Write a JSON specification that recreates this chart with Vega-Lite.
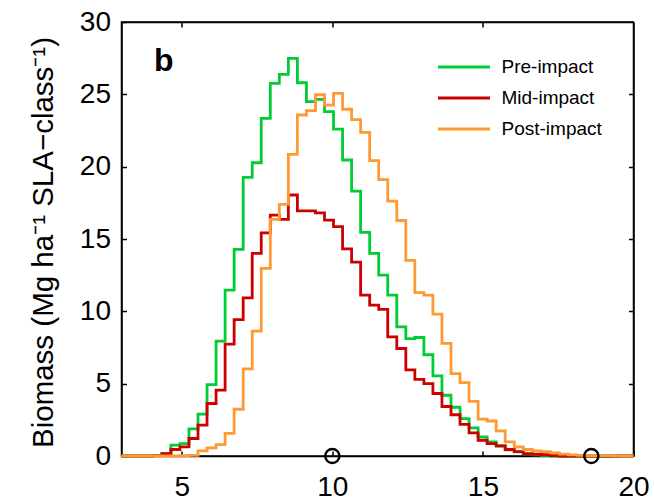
{
  "$schema": "https://vega.github.io/schema/vega-lite/v6.json",
  "width": 512,
  "height": 434,
  "autosize": "none",
  "padding": {"left": 121.5, "top": 22, "right": 20.5, "bottom": 45},
  "background": "white",
  "config": {
    "font": "Liberation Sans",
    "view": {"stroke": "black", "strokeWidth": 1.5},
    "axis": {
      "grid": false,
      "domainColor": "black",
      "domainWidth": 1.5,
      "tickColor": "black",
      "tickWidth": 1.5,
      "tickSize": -5,
      "labelColor": "black",
      "labelFont": "Liberation Sans",
      "labelFontSize": 28,
      "titleColor": "black",
      "titleFont": "Liberation Sans"
    },
    "legend": {
      "orient": "none", "legendX": 322, "legendY": 24.5, "title": null,
      "symbolType": "M-1.368,0H1.368", "symbolSize": 1444, "symbolStrokeWidth": 3,
      "labelFontSize": 19, "labelFont": "Liberation Sans", "labelColor": "black",
      "labelOffset": 17, "rowPadding": 0, "padding": 0
    }
  },
  "datasets": {
    "hist": [
      {"x": 3, "Pre-impact": 0, "Mid-impact": 0, "Post-impact": 0},
      {"x": 3.14, "Pre-impact": 0, "Mid-impact": 0, "Post-impact": 0},
      {"x": 3.44, "Pre-impact": 0, "Mid-impact": 0, "Post-impact": 0},
      {"x": 3.74, "Pre-impact": 0, "Mid-impact": 0, "Post-impact": 0},
      {"x": 4.04, "Pre-impact": 0.05, "Mid-impact": 0.03, "Post-impact": 0},
      {"x": 4.34, "Pre-impact": 0.17, "Mid-impact": 0.17, "Post-impact": 0},
      {"x": 4.64, "Pre-impact": 0.75, "Mid-impact": 0.45, "Post-impact": 0},
      {"x": 4.94, "Pre-impact": 0.86, "Mid-impact": 0.63, "Post-impact": 0.03},
      {"x": 5.24, "Pre-impact": 1.88, "Mid-impact": 1.21, "Post-impact": 0.05},
      {"x": 5.54, "Pre-impact": 2.89, "Mid-impact": 2.13, "Post-impact": 0.35},
      {"x": 5.84, "Pre-impact": 4.94, "Mid-impact": 3.63, "Post-impact": 0.56},
      {"x": 6.14, "Pre-impact": 7.94, "Mid-impact": 4.55, "Post-impact": 0.79},
      {"x": 6.44, "Pre-impact": 11.47, "Mid-impact": 7.73, "Post-impact": 1.56},
      {"x": 6.74, "Pre-impact": 14.28, "Mid-impact": 9.42, "Post-impact": 3.23},
      {"x": 7.04, "Pre-impact": 19.26, "Mid-impact": 10.93, "Post-impact": 6.02},
      {"x": 7.34, "Pre-impact": 20.27, "Mid-impact": 14.0, "Post-impact": 8.63},
      {"x": 7.64, "Pre-impact": 23.34, "Mid-impact": 15.43, "Post-impact": 12.97},
      {"x": 7.94, "Pre-impact": 25.76, "Mid-impact": 16.65, "Post-impact": 16.35},
      {"x": 8.24, "Pre-impact": 26.38, "Mid-impact": 16.35, "Post-impact": 17.39},
      {"x": 8.54, "Pre-impact": 27.49, "Mid-impact": 18.04, "Post-impact": 20.85},
      {"x": 8.84, "Pre-impact": 25.8, "Mid-impact": 16.95, "Post-impact": 23.57},
      {"x": 9.14, "Pre-impact": 24.49, "Mid-impact": 16.95, "Post-impact": 23.88},
      {"x": 9.44, "Pre-impact": 24.65, "Mid-impact": 16.81, "Post-impact": 24.97},
      {"x": 9.74, "Pre-impact": 23.8, "Mid-impact": 16.31, "Post-impact": 24.26},
      {"x": 10.04, "Pre-impact": 22.6, "Mid-impact": 15.85, "Post-impact": 25.07},
      {"x": 10.34, "Pre-impact": 20.46, "Mid-impact": 14.32, "Post-impact": 23.97},
      {"x": 10.64, "Pre-impact": 18.31, "Mid-impact": 13.4, "Post-impact": 23.25},
      {"x": 10.94, "Pre-impact": 15.46, "Mid-impact": 11.12, "Post-impact": 22.37},
      {"x": 11.24, "Pre-impact": 14.0, "Mid-impact": 10.43, "Post-impact": 20.42},
      {"x": 11.54, "Pre-impact": 12.5, "Mid-impact": 10.13, "Post-impact": 19.1},
      {"x": 11.84, "Pre-impact": 11.12, "Mid-impact": 8.24, "Post-impact": 17.62},
      {"x": 12.14, "Pre-impact": 8.93, "Mid-impact": 7.43, "Post-impact": 16.28},
      {"x": 12.44, "Pre-impact": 8.12, "Mid-impact": 5.95, "Post-impact": 13.52},
      {"x": 12.74, "Pre-impact": 8.19, "Mid-impact": 5.3, "Post-impact": 11.3},
      {"x": 13.04, "Pre-impact": 7.0, "Mid-impact": 5.0, "Post-impact": 11.12},
      {"x": 13.34, "Pre-impact": 5.54, "Mid-impact": 4.32, "Post-impact": 9.81},
      {"x": 13.64, "Pre-impact": 4.2, "Mid-impact": 3.42, "Post-impact": 7.78},
      {"x": 13.94, "Pre-impact": 3.37, "Mid-impact": 2.85, "Post-impact": 5.7},
      {"x": 14.24, "Pre-impact": 2.59, "Mid-impact": 2.19, "Post-impact": 5.07},
      {"x": 14.54, "Pre-impact": 1.95, "Mid-impact": 1.6, "Post-impact": 3.78},
      {"x": 14.84, "Pre-impact": 1.32, "Mid-impact": 1.09, "Post-impact": 2.55},
      {"x": 15.14, "Pre-impact": 0.98, "Mid-impact": 0.86, "Post-impact": 2.42},
      {"x": 15.44, "Pre-impact": 0.69, "Mid-impact": 0.7, "Post-impact": 1.74},
      {"x": 15.74, "Pre-impact": 0.43, "Mid-impact": 0.45, "Post-impact": 0.98},
      {"x": 16.04, "Pre-impact": 0.28, "Mid-impact": 0.3, "Post-impact": 0.63},
      {"x": 16.34, "Pre-impact": 0.15, "Mid-impact": 0.17, "Post-impact": 0.45},
      {"x": 16.64, "Pre-impact": 0.08, "Mid-impact": 0.12, "Post-impact": 0.36},
      {"x": 16.94, "Pre-impact": 0.04, "Mid-impact": 0.1, "Post-impact": 0.3},
      {"x": 17.24, "Pre-impact": 0, "Mid-impact": 0.03, "Post-impact": 0.22},
      {"x": 17.54, "Pre-impact": 0, "Mid-impact": 0, "Post-impact": 0.13},
      {"x": 17.84, "Pre-impact": 0, "Mid-impact": 0, "Post-impact": 0.08},
      {"x": 18.14, "Pre-impact": 0, "Mid-impact": 0, "Post-impact": 0.05},
      {"x": 18.44, "Pre-impact": 0, "Mid-impact": 0, "Post-impact": 0.03},
      {"x": 18.74, "Pre-impact": 0, "Mid-impact": 0, "Post-impact": 0.02},
      {"x": 19.04, "Pre-impact": 0, "Mid-impact": 0, "Post-impact": 0.02},
      {"x": 19.34, "Pre-impact": 0, "Mid-impact": 0, "Post-impact": 0.01},
      {"x": 19.64, "Pre-impact": 0, "Mid-impact": 0, "Post-impact": 0},
      {"x": 19.94, "Pre-impact": 0, "Mid-impact": 0, "Post-impact": 0},
      {"x": 20, "Pre-impact": 0, "Mid-impact": 0, "Post-impact": 0}
    ],
    "circles": [
      {"cx": 10, "cy": 0},
      {"cx": 18.6, "cy": 0}
    ],
    "panel": [
      {"t": "b", "tx": 4.08, "ty": 26.63}
    ]
  },
  "resolve": {"axis": {"x": "independent", "y": "independent"}},
  "layer": [
    {
      "data": {"name": "hist"},
      "transform": [
        {"fold": ["Pre-impact", "Mid-impact", "Post-impact"], "as": ["series", "biomass"]},
        {"filter": "datum.series === 'Pre-impact'"}
      ],
      "mark": {"type": "line", "interpolate": "step-after", "strokeWidth": 2.8, "strokeJoin": "miter"},
      "encoding": {
        "x": {
          "field": "x", "type": "quantitative",
          "scale": {"domain": [3, 20], "nice": false, "zero": false},
          "axis": {"orient": "bottom", "values": [5, 10, 15, 20], "title": null, "labelFlush": false, "labelPadding": 22, "labelOverlap": false}
        },
        "y": {
          "field": "biomass", "type": "quantitative",
          "scale": {"domain": [0, 30], "nice": false},
          "axis": {
            "orient": "left", "values": [0, 5, 10, 15, 20, 25, 30],
            "title": "Biomass (Mg ha⁻¹ SLA−class⁻¹)",
            "titleFontSize": 29.5, "titleFontWeight": "normal",
            "titleX": -69.5, "titleY": 220, "titleAngle": 270,
            "titleAlign": "center", "titleBaseline": "alphabetic",
            "labelPadding": 16, "labelFlush": false, "labelOverlap": false
          }
        },
        "color": {
          "field": "series", "type": "nominal",
          "scale": {"domain": ["Pre-impact", "Mid-impact", "Post-impact"], "range": ["#00cc33", "#cc0000", "#ff9933"]}
        }
      }
    },
    {
      "data": {"name": "hist"},
      "transform": [
        {"fold": ["Pre-impact", "Mid-impact", "Post-impact"], "as": ["series", "biomass"]},
        {"filter": "datum.series === 'Mid-impact'"}
      ],
      "mark": {"type": "line", "interpolate": "step-after", "strokeWidth": 2.8, "strokeJoin": "miter"},
      "encoding": {
        "x": {
          "field": "x", "type": "quantitative",
          "axis": {"orient": "top", "values": [5, 10, 15], "labels": false, "title": null, "domain": true}
        },
        "y": {
          "field": "biomass", "type": "quantitative",
          "axis": {"orient": "right", "values": [5, 10, 15, 20, 25], "labels": false, "title": null, "domain": true}
        },
        "color": {"field": "series", "type": "nominal"}
      }
    },
    {
      "data": {"name": "hist"},
      "transform": [
        {"fold": ["Pre-impact", "Mid-impact", "Post-impact"], "as": ["series", "biomass"]},
        {"filter": "datum.series === 'Post-impact'"}
      ],
      "mark": {"type": "line", "interpolate": "step-after", "strokeWidth": 2.8, "strokeJoin": "miter"},
      "encoding": {
        "x": {"field": "x", "type": "quantitative", "axis": null},
        "y": {"field": "biomass", "type": "quantitative", "axis": null},
        "color": {"field": "series", "type": "nominal"}
      }
    },
    {
      "data": {"name": "circles"},
      "mark": {"type": "point", "filled": false, "color": "black", "size": 200, "strokeWidth": 2.4, "opacity": 1},
      "encoding": {
        "x": {"field": "cx", "type": "quantitative", "axis": null},
        "y": {"field": "cy", "type": "quantitative", "axis": null}
      }
    },
    {
      "data": {"name": "panel"},
      "mark": {"type": "text", "font": "Liberation Sans", "fontWeight": "bold", "fontSize": 32, "align": "left", "baseline": "alphabetic", "color": "black"},
      "encoding": {
        "x": {"field": "tx", "type": "quantitative", "axis": null},
        "y": {"field": "ty", "type": "quantitative", "axis": null},
        "text": {"field": "t"}
      }
    }
  ]
}
